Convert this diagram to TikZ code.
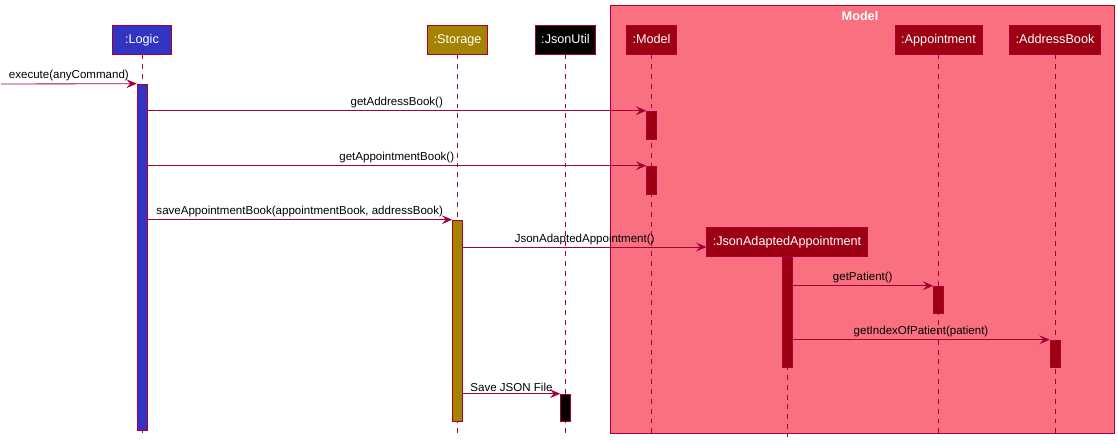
\documentclass[tikz,border=0pt]{standalone}
\usepackage{fontspec}
\setmainfont{Liberation Sans}
\usetikzlibrary{arrows.meta,positioning}
\definecolor{umlred}{HTML}{A80036}
\definecolor{logicblue}{HTML}{3333C4}
\definecolor{storeolive}{HTML}{A38300}
\definecolor{modeldark}{HTML}{9D0012}
\definecolor{grouppink}{HTML}{F97181}
\tikzset{
  part/.style={draw=umlred, fill=modeldark, text=white, font=\fontsize{9}{11}\selectfont, minimum height=0.725cm, inner xsep=0.15cm, inner ysep=0pt, text height=0.72em, text depth=0.2em},
  act/.style={draw=umlred, fill=modeldark, minimum width=0.25cm, inner sep=0pt},
  life/.style={umlred, dash pattern=on 3.5pt off 3.5pt},
  msg/.style={-{Stealth[length=2.6mm, width=2.2mm, inset=1mm]}, umlred, semithick},
  lbl/.style={above, font=\fontsize{8.2}{10}\selectfont, text=black, inner sep=1.5pt},
}
\begin{document}
\begin{tikzpicture}[x=0.025cm,y=-0.025cm]
\useasboundingbox (0,0) rectangle (1118,443);
% group box
\draw[umlred, fill=grouppink] (610,5) rectangle (1114,433);
\node[font=\fontsize{9}{11}\selectfont\bfseries, text=white] (grp) at (860,15.5) {Model};
\coordinate (bottom) at (0,437);
\coordinate (caller) at (1,84);
% participants
\node[part, fill=logicblue, minimum width=1.475cm] (logic) at (142,39.5) {:Logic};
\node[part, fill=storeolive] (storage) at (457.5,39.5) {:Storage};
\node[part, fill=black] (util) at (565.5,39.5) {:JsonUtil};
\node[part] (model) at (651.5,39.5) {:Model};
\node[part] (appt) at (938.5,39.5) {:Appointment};
\node[part] (book) at (1055,39.5) {:AddressBook};
\node[part] (jaa) at (787,242) {:JsonAdaptedAppointment};
% lifelines
\foreach \p in {logic,storage,util,model,appt,book,jaa}
  \draw[life] (\p.south) -- (\p.south |- bottom);
% activations
\node[act, fill=logicblue, minimum height=8.65cm] (aLogic) at (142,257) {};
\node[act, minimum height=0.7cm] (aModA) at (651.5,125) {};
\node[act, minimum height=0.7cm] (aModB) at (651.5,180) {};
\node[act, fill=storeolive, minimum height=5.025cm] (aStor) at (457.5,320.5) {};
\node[act, fill=black, minimum height=0.675cm] (aUtil) at (565.5,407.5) {};
\node[act, minimum height=2.75cm] (aJaa) at (787,312) {};
\node[act, minimum height=0.675cm] (aAppt) at (938.5,299.5) {};
\node[act, minimum height=0.675cm] (aBook) at (1055,353.5) {};
% messages
\draw[msg] (caller) -- node[lbl]{execute(anyCommand)} (aLogic.north west);
\draw[msg] (aLogic.east |- aModA.north) -- node[lbl]{getAddressBook()} (aModA.north west);
\draw[msg] (aLogic.east |- aModB.north) -- node[lbl]{getAppointmentBook()} (aModB.north west);
\draw[msg] (aLogic.east |- aStor.north) -- node[lbl]{saveAppointmentBook(appointmentBook, addressBook)} (aStor.north west);
\draw[msg] ([yshift=-0.125cm]aStor.east |- jaa.west) -- node[lbl]{JsonAdaptedAppointment()} ([yshift=-0.125cm]jaa.west);
\draw[msg] (aJaa.east |- aAppt.north) -- node[lbl]{getPatient()} (aAppt.north west);
\draw[msg] (aJaa.east |- aBook.north) -- node[lbl]{getIndexOfPatient(patient)} (aBook.north west);
\draw[msg] (aStor.east |- aUtil.north) -- node[lbl]{Save JSON File} (aUtil.north west);
\end{tikzpicture}
\end{document}
